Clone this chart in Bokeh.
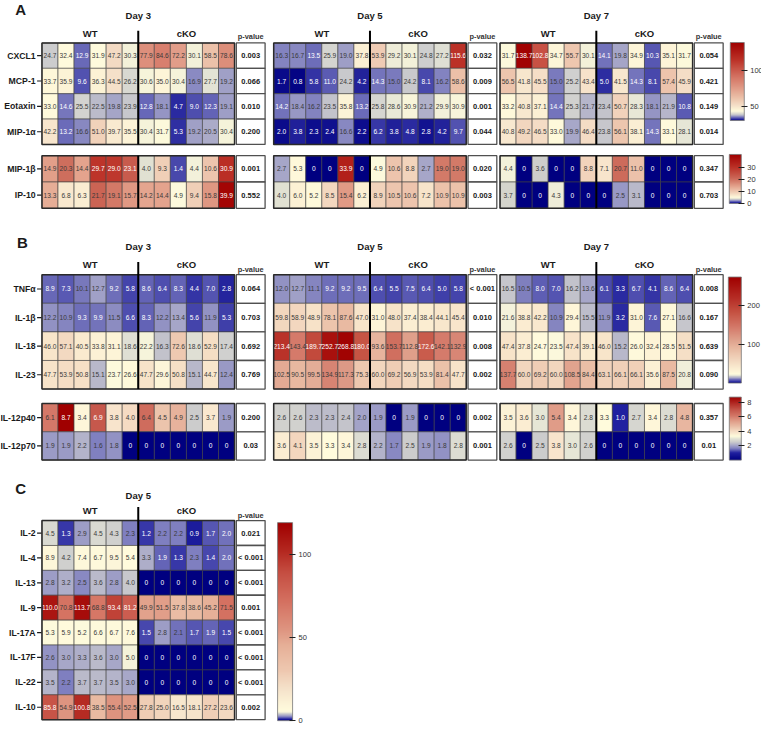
import numpy as np
from bokeh.plotting import figure
from bokeh.models import ColumnDataSource, LinearColorMapper, ColorBar, FixedTicker, Range1d
from bokeh.transform import transform
from bokeh.core.properties import value
from bokeh.embed import file_html
from bokeh.resources import INLINE

# ---------------------------------------------------------------- data
groups = ["WT", "cKO"]

A1_rows = ["CXCL1", "MCP-1", "Eotaxin", "MIP-1α"]
A1_d3 = [[24.7, 32.4, 12.9, 31.9, 47.2, 30.3, 77.9, 84.6, 72.2, 30.1, 58.5, 78.6],
         [33.7, 35.9, 9.6, 36.3, 44.5, 26.2, 30.6, 35.0, 30.4, 16.9, 27.7, 19.2],
         [33.0, 14.6, 25.5, 22.5, 19.8, 23.9, 12.8, 18.1, 4.7, 9.0, 12.3, 19.1],
         [42.2, 13.2, 16.6, 51.0, 39.7, 35.5, 30.4, 31.7, 5.3, 19.2, 20.5, 30.4]]
A1_p3 = ["0.003", "0.066", "0.010", "0.200"]
A1_d5 = [[16.3, 16.7, 13.5, 25.9, 19.0, 37.8, 53.9, 29.2, 30.1, 24.8, 27.2, 115.6],
         [1.7, 0.8, 5.8, 11.0, 24.2, 4.2, 14.3, 15.0, 24.2, 8.1, 16.2, 58.6],
         [14.2, 18.4, 16.2, 23.5, 35.8, 13.2, 25.8, 28.6, 30.9, 21.2, 29.9, 30.9],
         [2.0, 3.8, 2.3, 2.4, 16.6, 2.2, 6.2, 3.8, 4.8, 2.8, 4.2, 9.7]]
A1_p5 = ["0.032", "0.009", "0.001", "0.044"]
A1_d7 = [[31.7, 138.7, 102.8, 34.7, 55.7, 30.1, 14.1, 19.8, 34.9, 10.3, 35.1, 31.7],
         [56.5, 41.8, 45.5, 15.0, 25.2, 43.4, 5.0, 41.5, 14.3, 8.1, 57.4, 45.9],
         [33.2, 40.8, 37.1, 14.4, 25.3, 21.7, 23.4, 50.7, 28.3, 18.1, 21.9, 10.8],
         [40.8, 49.2, 46.5, 33.0, 19.9, 46.4, 23.8, 56.1, 38.1, 14.3, 33.1, 28.1]]
A1_p7 = ["0.054", "0.421", "0.149", "0.014"]

A2_rows = ["MIP-1β", "IP-10"]
A2_d3 = [[14.9, 20.3, 14.4, 29.7, 29.0, 23.1, 4.0, 9.3, 1.4, 4.4, 10.6, 30.9],
         [13.3, 6.8, 6.3, 21.7, 19.1, 15.7, 14.2, 14.4, 4.9, 9.4, 15.8, 39.9]]
A2_p3 = ["0.001", "0.552"]
A2_d5 = [[2.7, 5.3, 0, 0, 33.9, 0, 4.9, 10.6, 8.8, 2.7, 19.0, 19.0],
         [4.0, 6.0, 5.2, 8.5, 15.4, 6.2, 8.9, 10.5, 10.6, 7.2, 10.9, 10.9]]
A2_p5 = ["0.020", "0.003"]
A2_d7 = [[4.4, 0, 3.6, 0, 0, 8.8, 7.1, 20.7, 11.0, 0, 0, 0],
         [3.7, 0, 0, 4.3, 0, 0, 0, 2.5, 3.1, 0, 0, 0]]
A2_p7 = ["0.347", "0.703"]

B1_rows = ["TNFα", "IL-1β", "IL-18", "IL-23"]
B1_d3 = [[8.9, 7.3, 10.1, 12.7, 9.2, 5.8, 8.6, 6.4, 8.3, 4.4, 7.0, 2.8],
         [12.2, 10.9, 9.3, 9.9, 11.5, 6.6, 8.3, 12.2, 13.4, 5.6, 11.9, 5.3],
         [46.0, 57.1, 40.5, 33.8, 31.1, 18.6, 22.2, 16.3, 72.6, 18.6, 52.9, 17.4],
         [47.7, 53.9, 50.8, 15.1, 23.7, 26.6, 47.7, 29.6, 50.8, 15.1, 44.7, 12.4]]
B1_p3 = ["0.064", "0.703", "0.692", "0.769"]
B1_d5 = [[12.0, 12.7, 11.1, 9.2, 9.2, 9.5, 6.4, 5.5, 7.5, 6.4, 5.0, 5.8],
         [59.8, 58.9, 48.9, 78.1, 87.6, 47.0, 31.0, 48.0, 37.4, 38.4, 44.1, 45.4],
         [213.4, 143.4, 189.7, 252.7, 268.8, 180.0, 93.6, 153.7, 112.8, 172.6, 142.1, 132.9],
         [102.5, 90.5, 99.5, 134.9, 117.3, 75.3, 60.0, 69.2, 56.9, 53.9, 81.4, 47.7]]
B1_p5 = ["< 0.001", "0.010", "0.008", "0.002"]
B1_d7 = [[16.5, 10.5, 8.0, 7.0, 16.2, 13.6, 6.1, 3.3, 6.7, 4.1, 8.6, 6.4],
         [21.6, 38.8, 42.2, 10.9, 29.4, 15.5, 11.9, 3.2, 31.0, 7.6, 27.1, 16.6],
         [47.4, 37.8, 24.7, 23.5, 47.4, 39.1, 46.0, 15.2, 26.0, 32.4, 28.5, 51.5],
         [137.7, 60.0, 69.2, 60.0, 108.5, 84.4, 63.1, 66.1, 66.1, 35.6, 87.5, 20.8]]
B1_p7 = ["0.008", "0.167", "0.639", "0.090"]

B2_rows = ["IL-12p40", "IL-12p70"]
B2_d3 = [[6.1, 8.7, 3.4, 6.9, 3.8, 4.0, 6.4, 4.5, 4.9, 2.5, 3.7, 1.9],
         [1.9, 1.9, 2.2, 1.6, 1.8, 0, 0, 0, 0, 0, 0, 0]]
B2_p3 = ["0.200", "0.03"]
B2_d5 = [[2.6, 2.6, 2.3, 2.3, 2.4, 2.0, 1.9, 0, 1.9, 0, 0, 0],
         [3.6, 4.1, 3.5, 3.3, 3.4, 2.8, 2.2, 1.7, 2.5, 1.9, 1.8, 2.8]]
B2_p5 = ["0.002", "0.001"]
B2_d7 = [[3.5, 3.6, 3.0, 5.4, 3.4, 2.8, 3.3, 1.0, 2.7, 3.4, 2.8, 4.8],
         [2.6, 0, 2.5, 3.8, 3.0, 2.6, 0, 0, 0, 0, 0, 0]]
B2_p7 = ["0.357", "0.01"]

C_rows = ["IL-2", "IL-4", "IL-13", "IL-9", "IL-17A", "IL-17F", "IL-22", "IL-10"]
C_d5 = [[4.5, 1.3, 2.9, 4.5, 4.3, 2.3, 1.2, 2.2, 2.2, 0.9, 1.7, 2.0],
        [8.9, 4.2, 7.4, 6.7, 9.5, 5.4, 3.3, 1.9, 1.3, 2.3, 1.4, 2.0],
        [2.8, 3.2, 2.5, 3.6, 2.8, 4.0, 0, 0, 0, 0, 0, 0],
        [110.0, 70.8, 113.7, 68.8, 93.4, 81.2, 49.9, 51.5, 37.8, 38.6, 45.2, 71.5],
        [5.3, 5.9, 5.2, 6.6, 6.7, 7.6, 1.5, 2.8, 2.1, 1.7, 1.9, 1.5],
        [2.6, 3.0, 3.3, 3.6, 3.0, 5.0, 0, 0, 0, 0, 0, 0],
        [3.5, 2.2, 3.7, 3.7, 3.5, 3.0, 0, 0, 0, 0, 0, 0],
        [85.8, 54.9, 100.8, 38.5, 55.4, 52.5, 27.8, 25.0, 16.5, 18.1, 27.2, 23.6]]
C_p5 = ["0.021", "< 0.001", "< 0.001", "0.001", "< 0.001", "< 0.001", "< 0.001", "0.002"]

# colour-scale tick labels
A1_ticks = [50, 100]
A2_ticks = [0, 10, 20, 30]
B1_ticks = [100, 200]
B2_ticks = [2, 4, 6, 8]
C_ticks = [0, 50, 100]

# ---------------------------------------------------------------- colour scales (style)
STOPS_A1 = [(0, "#000080"), (2, "#0c0c8c"), (5, "#2e2ea2"), (8, "#4848ac"), (12, "#6262b6"),
            (16, "#8282c0"), (20, "#a8a8c8"), (24, "#c8c8cc"), (28, "#e6e6d6"), (32, "#fffbdc"),
            (45, "#f5dfc8"), (58, "#ecc2aa"), (75, "#df9682"), (90, "#d47262"), (115, "#bc3228"),
            (140, "#a00000")]
STOPS_A1_CB = [(31, "#000080"), (33, "#2e2ea2"), (36, "#8282c0"), (39, "#c8c8cc"), (44, "#fffbdc"),
               (52, "#f5dfc8"), (62, "#ecc2aa"), (78, "#df9682"), (92, "#d47262"), (115, "#bc3228"),
               (139, "#a00000")]
STOPS_A2 = [(0, "#000080"), (0.7, "#2020a0"), (1.4, "#4a4aac"), (2.1, "#8080c0"), (2.7, "#a8a8c8"),
            (3.7, "#d4d4cc"), (4.3, "#f2f0da"), (5.0, "#fffbdc"), (7, "#f8e6cc"), (9, "#f1d2ba"),
            (15, "#e29e88"), (21, "#cc6858"), (30, "#bc3228"), (41, "#a00000")]
STOPS_B1 = [(0, "#000080"), (3, "#2828a0"), (6.5, "#5050b0"), (10, "#7878bc"), (13, "#a4a4c8"),
            (16.5, "#c8c8cc"), (20, "#eeeeda"), (24, "#fffbdc"), (35, "#fcf0d4"), (60, "#f2d6be"),
            (90, "#e8b8a0"), (115, "#de9c88"), (145, "#d47868"), (180, "#c65444"), (215, "#b83028"),
            (272, "#a00000")]
STOPS_B2 = [(0, "#000080"), (1.0, "#2020a0"), (1.6, "#8080c0"), (2.0, "#a4a4c8"), (2.5, "#cccccc"),
            (3.0, "#e6e6d6"), (3.3, "#fffbdc"), (3.8, "#f8e4cc"), (4.5, "#ecc4ac"), (5.4, "#e09c88"),
            (6.1, "#d47868"), (7.0, "#c45448"), (8.7, "#a00000")]
STOPS_C = [(0, "#000080"), (0.9, "#2020a0"), (1.5, "#5050b0"), (2.2, "#8080c0"), (3.0, "#a8a8c8"),
           (4.0, "#c8c8cc"), (4.6, "#e4e4d4"), (5.2, "#fffbdc"), (10, "#fcf4d8"), (20, "#f4e0c8"),
           (30, "#eec8b0"), (45, "#e6b098"), (55, "#de9480"), (72, "#d47060"), (90, "#c44c40"),
           (102, "#b42820"), (119, "#a00000")]


def _rgb(h):
    return [int(h[i:i + 2], 16) for i in (1, 3, 5)]


def interp_rgb(v, stops):
    vs = [s[0] for s in stops]
    cs = np.array([_rgb(s[1]) for s in stops], float)
    return [float(np.interp(v, vs, cs[:, k])) for k in range(3)]


def palette(stops, n=600):
    lo, hi = stops[0][0], stops[-1][0]
    out = []
    for v in np.linspace(lo, hi, n):
        r, g, b = interp_rgb(v, stops)
        out.append("#%02x%02x%02x" % (int(round(r)), int(round(g)), int(round(b))))
    return out


def mapper(stops):
    return LinearColorMapper(palette=palette(stops), low=stops[0][0], high=stops[-1][0])


def text_color(v, stops):
    r, g, b = interp_rgb(v, stops)
    lum = (0.299 * r + 0.587 * g + 0.114 * b) / 255.0
    return "#ffffff" if lum < 0.5 else "#3a3a3a"


# ---------------------------------------------------------------- canvas
W, H = 761, 726
XR = (-2.0, 778.0)
YR = (744.0, 0.0)
SX = W / (XR[1] - XR[0])
SY = H / (YR[0] - YR[1])
FONT = "Liberation Sans"

p = figure(width=W, height=H, x_range=Range1d(*XR), y_range=Range1d(*YR),
           output_backend="svg", toolbar_location=None,
           x_axis_type=None, y_axis_type=None, min_border=0)
p.outline_line_color = None
p.background_fill_color = "white"
p.border_fill_color = "white"

NCOL = 12
CW = 16.45
DAY_X0 = {3: 40.5, 5: 278.0, 7: 510.0}
PW = 29.5
PGAP = 1.8


def txt(x, y, s, size, bold=True, align="center", color="#1a1a1a", baseline="middle"):
    p.text(x=[x], y=[y], text=[s], text_font=value(FONT), text_font_size=size,
           text_font_style="bold" if bold else "normal", text_align=align,
           text_baseline=baseline, text_color=color)


def draw_block(vals, pvals, rows, x0, y0, rh, stops, cmap, labels=False, divider_top=None):
    nrow = len(vals)
    xs, ys, vs, tt, tc = [], [], [], [], []
    for i, rowv in enumerate(vals):
        for j, v in enumerate(rowv):
            xs.append(x0 + (j + 0.5) * CW)
            ys.append(y0 + (i + 0.5) * rh)
            vs.append(v)
            tt.append("0" if v == 0 else f"{v:.1f}")
            tc.append(text_color(v, stops))
    src = ColumnDataSource(dict(x=xs, y=ys, v=vs, t=tt, c=tc))
    p.rect("x", "y", width=CW, height=rh, source=src, fill_color=transform("v", cmap),
           line_color="#404040", line_width=0.6)
    p.text("x", "y", text="t", source=src, text_color="c", text_font=value(FONT),
           text_font_size="6.6px", text_align="center", text_baseline="middle")
    bw, bh = NCOL * CW, nrow * rh
    p.rect(x=x0 + bw / 2, y=y0 + bh / 2, width=bw, height=bh, fill_alpha=0,
           line_color="#2a2a2a", line_width=1.5)
    xd = x0 + 6 * CW
    p.segment(x0=[xd], y0=[divider_top if divider_top is not None else y0], x1=[xd],
              y1=[y0 + bh], line_color="black", line_width=2)
    # p-value boxes
    pxc = x0 + bw + PGAP + PW / 2
    pys = [y0 + (i + 0.5) * rh for i in range(nrow)]
    psrc = ColumnDataSource(dict(x=[pxc] * nrow, y=pys, t=pvals))
    p.rect("x", "y", width=PW, height=rh, source=psrc, fill_color="white",
           line_color="#505050", line_width=1.3)
    p.text("x", "y", text="t", source=psrc, text_color="#1a1a1a", text_font=value(FONT),
           text_font_size="7.5px", text_font_style="bold", text_align="center",
           text_baseline="middle")
    if labels:
        lsrc = ColumnDataSource(dict(x=[x0 - 6.5] * nrow, y=pys, t=rows))
        p.text("x", "y", text="t", source=lsrc, text_color="#1a1a1a", text_font=value(FONT),
               text_font_size="8.7px", text_font_style="bold", text_align="right",
               text_baseline="middle")
        p.segment(x0=[x0 - 5] * nrow, y0=pys, x1=[x0 - 0.5] * nrow, y1=pys,
                  line_color="#1a1a1a", line_width=1.2)
    return pxc


def headers(x0, day_y, grp_y, pv_y, pxc, day):
    bw = NCOL * CW
    txt(x0 + bw / 2, day_y, f"Day {day}", "9.5px")
    txt(x0 + bw / 4, grp_y, groups[0], "9.5px")
    txt(x0 + 3 * bw / 4, grp_y, groups[1], "9.5px")
    txt(pxc, pv_y, "p-value", "7.4px", color="#333333")


def add_cbar(stops, xl, xr, yt, yb, ticks):
    cb = ColorBar(color_mapper=mapper(stops), orientation="vertical",
                  location=((xl - XR[0]) * SX, (YR[0] - yb) * SY),
                  width=int(round((xr - xl) * SX)), height=int(round((yb - yt) * SY)),
                  padding=0, margin=0, ticker=FixedTicker(ticks=ticks),
                  major_label_text_font=FONT, major_label_text_font_size="7.5px",
                  major_label_text_color="#333333",
                  major_tick_line_color="#222222", major_tick_in=3, major_tick_out=3,
                  minor_tick_line_color=None, bar_line_color="#777777", bar_line_width=0.8,
                  background_fill_alpha=0, border_line_color=None, label_standoff=3)
    p.add_layout(cb)


# ---------------------------------------------------------------- panel A
mA1, mA2 = mapper(STOPS_A1), mapper(STOPS_A2)
txt(13, 9, "A", "15px", align="left")
for day, d1, p1, d2, p2 in [(3, A1_d3, A1_p3, A2_d3, A2_p3),
                            (5, A1_d5, A1_p5, A2_d5, A2_p5),
                            (7, A1_d7, A1_p7, A2_d7, A2_p7)]:
    x0 = DAY_X0[day]
    pxc = draw_block(d1, p1, A1_rows, x0, 43.5, 26.0, STOPS_A1, mA1, labels=(day == 3),
                     divider_top=31)
    draw_block(d2, p2, A2_rows, x0, 159.0, 27.0, STOPS_A2, mA2, labels=(day == 3))
    headers(x0, 15, 34, 37, pxc, day)
add_cbar(STOPS_A1_CB, 746, 760, 43, 123, A1_ticks)
add_cbar(STOPS_A2, 745, 757, 158, 208, A2_ticks)

# ---------------------------------------------------------------- panel B
mB1, mB2 = mapper(STOPS_B1), mapper(STOPS_B2)
txt(15, 248, "B", "15px", align="left")
for day, d1, p1, d2, p2 in [(3, B1_d3, B1_p3, B2_d3, B2_p3),
                            (5, B1_d5, B1_p5, B2_d5, B2_p5),
                            (7, B1_d7, B1_p7, B2_d7, B2_p7)]:
    x0 = DAY_X0[day]
    pxc = draw_block(d1, p1, B1_rows, x0, 281.0, 29.3, STOPS_B1, mB1, labels=(day == 3),
                     divider_top=268)
    draw_block(d2, p2, B2_rows, x0, 413.0, 29.0, STOPS_B2, mB2, labels=(day == 3))
    headers(x0, 252, 271, 276, pxc, day)
add_cbar(STOPS_B1, 744, 757, 283, 392, B1_ticks)
add_cbar(STOPS_B2, 745, 757, 406, 471, B2_ticks)

# ---------------------------------------------------------------- panel C
mC = mapper(STOPS_C)
txt(13, 500, "C", "15px", align="left")
pxc = draw_block(C_d5, C_p5, C_rows, DAY_X0[3], 533.0, 25.5, STOPS_C, mC, labels=True,
                 divider_top=519)
headers(DAY_X0[3], 507, 523, 528, pxc, 5)
add_cbar(STOPS_C, 282, 297, 535, 738, C_ticks)

open("out.html", "w").write(file_html(p, INLINE))
